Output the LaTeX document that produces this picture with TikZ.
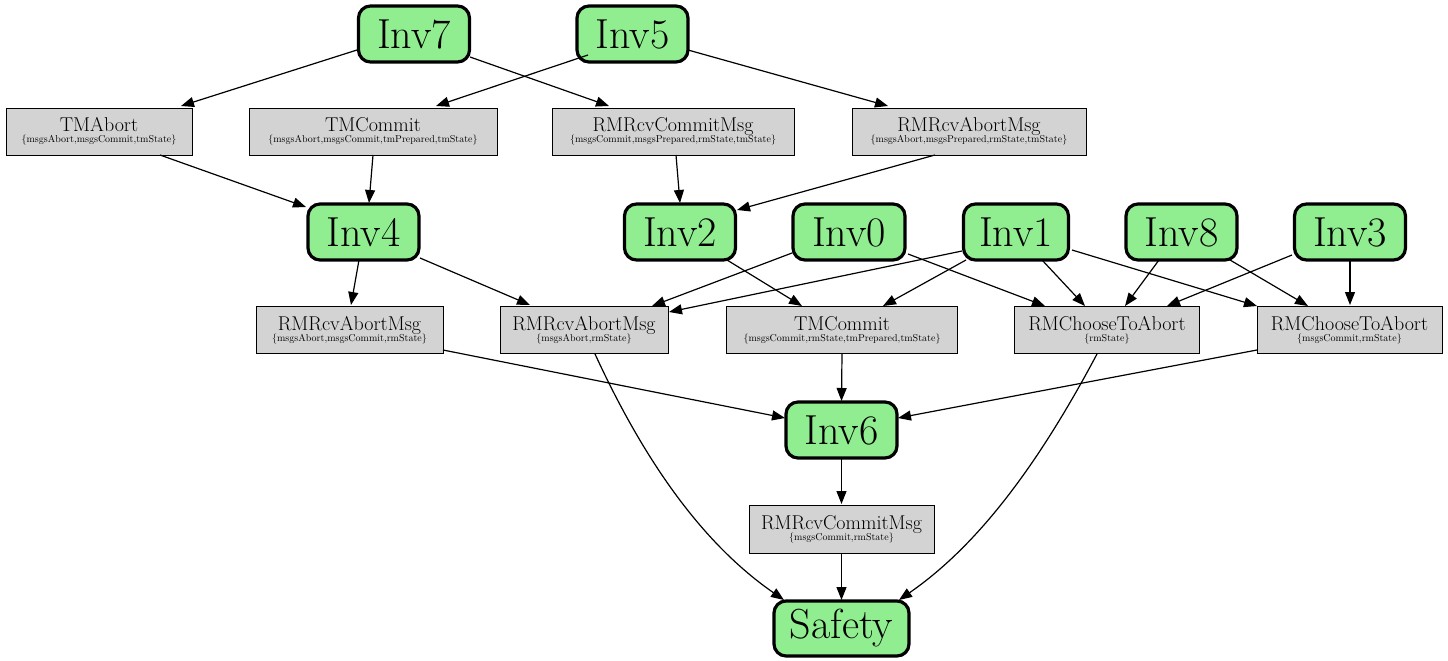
\documentclass[tikz,border=0pt]{standalone}
\usetikzlibrary{arrows.meta,calc}
\definecolor{invgreen}{HTML}{90EE90}
\definecolor{actgray}{HTML}{D3D3D3}
\newcommand\actlabel[2]{#1\\{\fontsize{10}{10}\selectfont\{#2\}}}
\begin{document}
\begin{tikzpicture}[x=1pt,y=-1pt,
  inv/.style={draw=black, line width=3.2pt, fill=invgreen, rounded corners=12pt,
    minimum width=111pt, minimum height=56pt, inner sep=0pt,
    font=\fontsize{42}{44}\selectfont},
  act/.style={draw=black, line width=1pt, fill=actgray, minimum height=47pt,
    inner sep=0pt, align=center,
    font={\fontsize{20}{11}\selectfont\lineskiplimit=-30pt}},
  edge/.style={draw=black, line width=1.2pt, -{Triangle[length=13pt,width=10pt]}}]
\useasboundingbox (0,0) rectangle (1448,661);
% invariants
\node[inv] (inv7) at (414,34) {Inv7};
\node[inv] (inv5) at (632.5,34) {Inv5};
\node[inv] (inv4) at (363.5,232) {Inv4};
\node[inv] (inv2) at (680,232) {Inv2};
\node[inv, minimum width=112pt] (inv0) at (849,232) {Inv0};
\node[inv, minimum width=105pt] (inv1) at (1016,232) {Inv1};
\node[inv] (inv8) at (1181.5,232) {Inv8};
\node[inv] (inv3) at (1350,232) {Inv3};
\node[inv] (inv6) at (841.5,430) {Inv6};
\node[inv, minimum width=135pt, minimum height=55pt] (safety) at (841.5,628.5) {Safety};
% actions
\node[act, minimum width=186pt] (tmabort) at (99,131.5) {\actlabel{TMAbort}{msgsAbort,msgsCommit,tmState}};
\node[act, minimum width=248pt] (tmcommit) at (373,131.5) {\actlabel{TMCommit}{msgsAbort,msgsCommit,tmPrepared,tmState}};
\node[act, minimum width=242pt] (rmcommit) at (673,131.5) {\actlabel{RMRcvCommitMsg}{msgsCommit,msgsPrepared,rmState,tmState}};
\node[act, minimum width=234pt] (rmabort) at (969,131.5) {\actlabel{RMRcvAbortMsg}{msgsAbort,msgsPrepared,rmState,tmState}};
\node[act, minimum width=187pt] (abort1) at (349.5,330) {\actlabel{RMRcvAbortMsg}{msgsAbort,msgsCommit,rmState}};
\node[act, minimum width=168pt] (abort2) at (584,330) {\actlabel{RMRcvAbortMsg}{msgsAbort,rmState}};
\node[act, minimum width=231pt] (tmcommit2) at (842,330) {\actlabel{TMCommit}{msgsCommit,rmState,tmPrepared,tmState}};
\node[act, minimum width=185pt] (choose1) at (1107,330) {\actlabel{RMChooseToAbort}{rmState}};
\node[act, minimum width=185pt] (choose2) at (1349.5,330) {\actlabel{RMChooseToAbort}{msgsCommit,rmState}};
\node[act, minimum width=185pt, minimum height=48pt] (rmcommit2) at (841.5,529) {\actlabel{RMRcvCommitMsg}{msgsCommit,rmState}};
% edges
\draw[edge] ($(inv7)+(-57,16)$) -- ($(tmabort)+(82,-25.5)$);
\draw[edge] ($(inv7)+(56,23)$) -- ($(rmcommit)+(-64,-25.5)$);
\draw[edge] ($(inv5)+(-44.5,21)$) -- ($(tmcommit)+(63,-25.5)$);
\draw[edge] ($(inv5)+(55.5,16)$) -- ($(rmabort)+(-81,-25.5)$);
\draw[edge] ($(tmabort)+(61,23.5)$) -- ($(inv4)+(-57.5,-25)$);
\draw[edge] ($(tmcommit)+(0,23.5)$) -- ($(inv4)+(5.5,-29)$);
\draw[edge] ($(rmcommit)+(3,23.5)$) -- ($(inv2)+(0,-29)$);
\draw[edge] ($(rmabort)+(-34,23.5)$) -- ($(inv2)+(57,-22)$);
\draw[edge] ($(inv4)+(-4.5,28)$) -- ($(abort1)+(1.5,-25)$);
\draw[edge] ($(inv4)+(56.5,26)$) -- ($(abort2)+(-54,-25)$);
\draw[edge] ($(inv2)+(47,28)$) -- ($(tmcommit2)+(-40,-24)$);
\draw[edge] ($(inv0)+(-57,21)$) -- ($(abort2)+(68,-24)$);
\draw[edge] ($(inv0)+(59,22)$) -- ($(choose1)+(-62,-24)$);
\draw[edge] ($(inv1)+(-54,19)$) -- ($(abort2)+(85,-18)$);
\draw[edge] ($(inv1)+(-50,28)$) -- ($(tmcommit2)+(41,-24)$);
\draw[edge] ($(inv1)+(26,28)$) -- ($(choose1)+(-22,-24)$);
\draw[edge] ($(inv1)+(56,18)$) -- ($(choose2)+(-92.5,-24)$);
\draw[edge] ($(inv8)+(-22.5,28)$) -- ($(choose1)+(18,-24)$);
\draw[edge] ($(inv8)+(48.5,28)$) -- ($(choose2)+(-41.5,-24)$);
\draw[edge] ($(inv3)+(-58,23)$) -- ($(choose1)+(60,-24)$);
\draw[edge] ($(inv3)+(0,28)$) -- ($(choose2)+(0.5,-25)$);
\draw[edge] ($(abort1)+(93.5,20)$) -- ($(inv6)+(-56.5,-12)$);
\draw[edge] ($(tmcommit2)+(0,23.5)$) -- ($(inv6)+(0,-29)$);
\draw[edge] ($(choose2)+(-92.5,20)$) -- ($(inv6)+(56.5,-12)$);
\draw[edge] ($(abort2)+(11,24)$) .. controls (647,467) and (706,546) .. ($(safety)+(-57.5,-28.5)$);
\draw[edge] ($(choose1)+(-10,24)$) .. controls (1037,467) and (977,546) .. ($(safety)+(57.5,-28.5)$);
\draw[edge] ($(inv6)+(0,28)$) -- ($(rmcommit2)+(0,-25)$);
\draw[edge] ($(rmcommit2)+(0,24)$) -- ($(safety)+(0,-28.5)$);
\end{tikzpicture}
\end{document}
